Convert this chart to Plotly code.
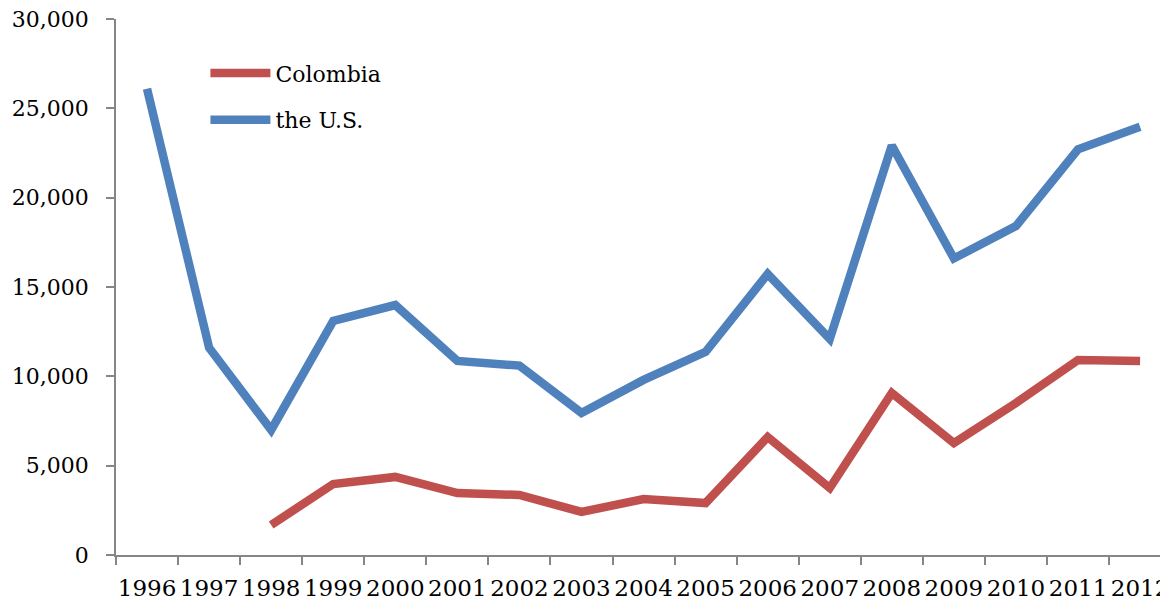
import plotly.graph_objects as go

years = [str(y) for y in range(1996, 2013)]
us_values = [26100, 11600, 7000, 13100, 13990, 10860, 10600, 7950, 9800, 11370,
             15730, 12090, 22920, 16600, 18410, 22710, 23970]
colombia_values = [None, None, 1680, 3970, 4370, 3470, 3360, 2410, 3130, 2910,
                   6600, 3750, 9070, 6270, 8510, 10910, 10860]

FONT = "DejaVu Serif"
AXIS_COLOR = "#868686"

fig = go.Figure()
fig.add_trace(go.Scatter(
    x=years, y=colombia_values, name="Colombia", mode="lines",
    line=dict(color="#C0504D", width=8.5), connectgaps=False, legend="legend",
))
fig.add_trace(go.Scatter(
    x=years, y=us_values, name="the U.S.", mode="lines",
    line=dict(color="#4F81BD", width=8.5), legend="legend2",
))

fig.update_layout(
    width=1160, height=593,
    margin=dict(l=108, r=0, t=11, b=46, autoexpand=False),
    paper_bgcolor="white", plot_bgcolor="white",
    font=dict(family=FONT, size=22, color="black"),
    showlegend=True,
    legend=dict(x=0.085, y=0.899, xanchor="left", yanchor="middle",
                bgcolor="rgba(0,0,0,0)", itemwidth=60,
                font=dict(family=FONT, size=22), tracegroupgap=0),
    legend2=dict(x=0.085, y=0.8116, xanchor="left", yanchor="middle",
                 bgcolor="rgba(0,0,0,0)", itemwidth=60,
                 font=dict(family=FONT, size=22), tracegroupgap=0),
    xaxis=dict(
        type="category", range=[-0.5, 16.45],
        showgrid=False, zeroline=False, automargin=False,
        showline=True, linecolor=AXIS_COLOR, linewidth=1.5,
        ticks="outside", tickson="boundaries", ticklen=8,
        tickcolor=AXIS_COLOR, tickwidth=1.5, tickangle=0,
        ticklabelstandoff=12, ticklabeloverflow="allow",
        tickfont=dict(family=FONT, size=23),
    ),
    yaxis=dict(
        range=[0, 30000], tickvals=[0, 5000, 10000, 15000, 20000, 25000, 30000],
        tickformat=",d", automargin=False,
        showgrid=False, zeroline=False,
        showline=True, linecolor=AXIS_COLOR, linewidth=1.5,
        ticks="outside", ticklen=8, tickcolor=AXIS_COLOR, tickwidth=1.5,
        ticklabelstandoff=13, ticklabeloverflow="allow",
        tickfont=dict(family=FONT, size=22),
    ),
)

fig.write_html("out.html")
